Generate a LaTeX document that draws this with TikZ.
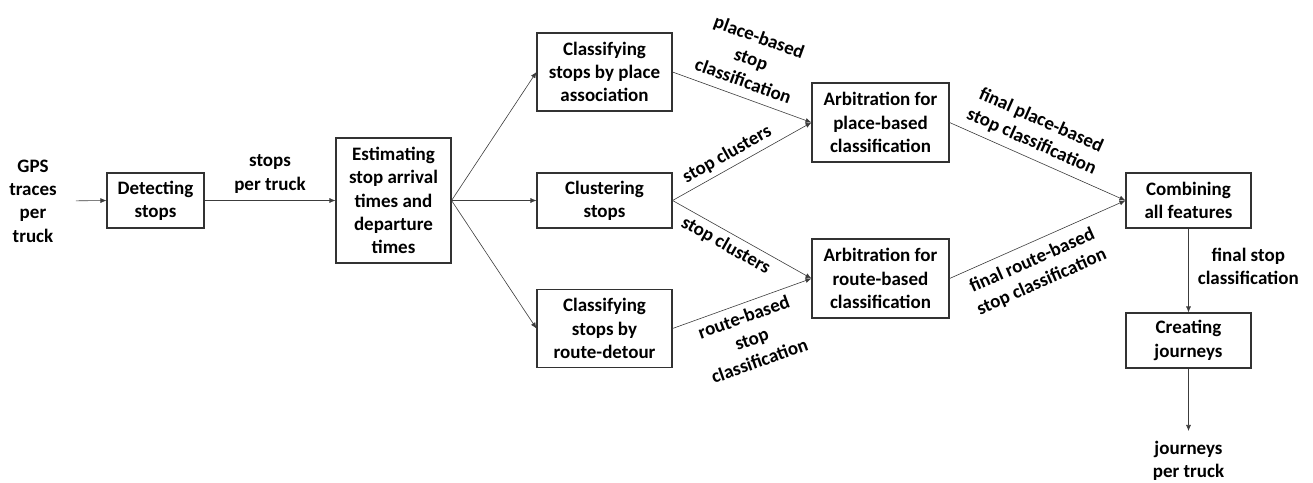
\documentclass[tikz,border=0pt]{standalone}
\usepackage{fontspec}
\setmainfont{Carlito}
\usepackage{tikz}
\usetikzlibrary{positioning,arrows.meta}
\definecolor{boxline}{RGB}{50,50,50}
\definecolor{flowline}{RGB}{60,60,60}
\tikzset{
	stage/.style={
		draw=boxline,        % dark grey border
		line width=1.1pt,    % border thickness
		rectangle,           % shape
		align=center,        % centred lines
		inner sep=2pt,       % padding
		font=\bfseries\fontsize{19}{23.3}\selectfont
	},
	tag/.style={
		align=center,        % centred lines
		inner sep=3pt,       % padding
		font=\bfseries\fontsize{19}{23.3}\selectfont
	},
	flow/.style={
		draw=flowline,       % grey connector
		line width=0.6pt,    % thin line
		-{Latex[length=6pt,width=5pt]}
	}
}

\begin{document}
\begin{tikzpicture}[x=1pt,y=-1pt]
	\useasboundingbox (0,0) rectangle (1313,482);

	% stages
	\node[tag] (gps) at (33,201) {GPS\\traces\\per\\truck};
	\node[stage, minimum width=97pt, minimum height=55pt] (detect) at (155.5,200.5) {Detecting\\stops};
	\node[stage, minimum width=115pt, minimum height=125pt] (estimate) at (393.5,200.5) {Estimating\\stop arrival\\times and\\departure\\times};
	\node[stage, minimum width=135pt, minimum height=78pt] (clsplace) at (604.5,72) {Classifying\\stops by place\\association};
	\node[stage, minimum width=135pt, minimum height=55pt] (cluster) at (604.5,200.5) {Clustering\\stops};
	\node[stage, minimum width=135pt, minimum height=78pt] (clsroute) at (604.5,328.5) {Classifying\\stops by\\route-detour};
	\node[stage, minimum width=137pt, minimum height=79pt] (arbplace) at (880.5,122.5) {Arbitration for\\place-based\\classification};
	\node[stage, minimum width=137pt, minimum height=79pt] (arbroute) at (880.5,278.5) {Arbitration for\\route-based\\classification};
	\node[stage, minimum width=125pt, minimum height=55pt] (combine) at (1188.5,200.5) {Combining\\all features};
	\node[stage, minimum width=125pt, minimum height=55pt] (create) at (1188.5,340.5) {Creating\\journeys};
	\node[tag] (journeys) at (1188.5,461) {journeys\\per truck};

	% connectors
	\draw[flow, shorten <=16pt] (gps.east) -- (detect.west);
	\draw[flow] (detect.east) -- node[tag, above=4pt] {stops\\per truck} (estimate.west);
	\draw[flow] (estimate.east) -- (clsplace.west);
	\draw[flow] (estimate.east) -- (cluster.west);
	\draw[flow] (estimate.east) -- (clsroute.west);
	\draw[flow] (clsplace.east) -- node[tag, sloped, above=6pt, pos=0.47] {place-based\\stop\\classification} (arbplace.west);
	\draw[flow] (cluster.east) -- node[tag, sloped, above=2pt, pos=0.44] {stop clusters} (arbplace.west);
	\draw[flow] (cluster.east) -- node[tag, sloped, below=2pt, pos=0.43] {stop clusters} (arbroute.west);
	\draw[flow] (clsroute.east) -- node[tag, sloped, below=3pt, pos=0.48] {route-based\\stop\\classification} (arbroute.west);
	\draw[flow] (arbplace.east) -- node[tag, sloped, above=4pt, pos=0.43] {final place-based\\stop classification} (combine.west);
	\draw[flow] (arbroute.east) -- node[tag, sloped, below=6pt, pos=0.43] {final route-based\\stop classification} (combine.west);
	\draw[flow] (combine.south) -- node[tag, right=6pt, pos=0.45] {final stop\\classification} (create.north);
	\draw[flow, shorten >=7pt] (create.south) -- (journeys.north);
\end{tikzpicture}
\end{document}
